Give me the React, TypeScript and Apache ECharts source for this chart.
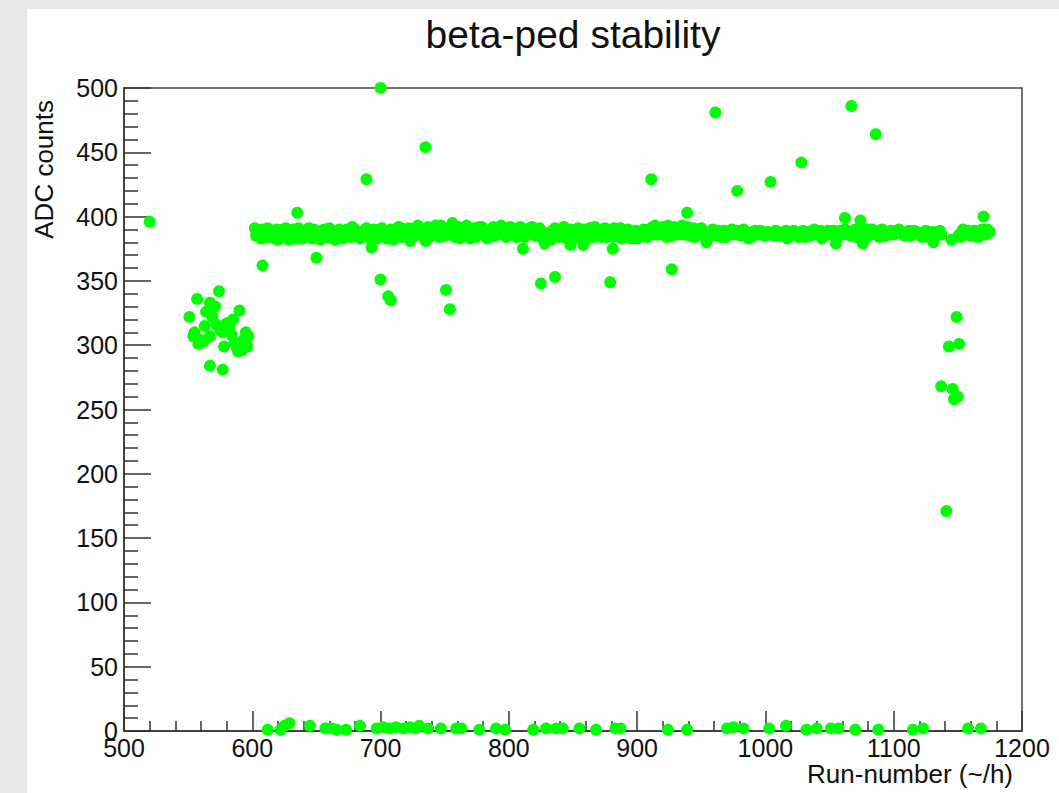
import React, { useEffect, useRef } from "react";
import * as echarts from "echarts";

const chartTitle = "beta-ped stability";
const xTitle = "Run-number (~/h)";
const yTitle = "ADC counts";

const xTicks = { min: 500, max: 1200, interval: 100 };
const yTicks = { min: 0, max: 500, interval: 50 };

// early run
const earlyPoints: [number, number][] = [[520, 396]];

// low cluster 550-600
const clusterPoints: [number, number][] = [
  [551, 322], [554, 307], [555, 310], [557, 336], [558, 301], [560, 304], [563, 315],
  [564, 326], [567, 333], [567, 307], [567, 284], [571, 330], [572, 316], [574, 342],
  [577, 281], [577, 310], [578, 299], [580, 317], [584, 308], [585, 320], [588, 298],
  [589, 295], [590, 327], [593, 304], [595, 310], [597, 307], [562, 303], [569, 322],
  [575, 312], [582, 314], [586, 302], [592, 296], [596, 299],
];

// main band ~ 385
const bandPoints: [number, number][] = [
  [602, 391], [605, 386], [607, 383], [610, 388], [613, 384], [616, 389], [618, 383], [621, 386],
  [624, 390], [627, 384], [630, 388], [633, 385], [636, 391], [639, 383], [642, 387], [645, 385],
  [648, 390], [651, 384], [654, 388], [657, 386], [660, 391], [663, 383], [666, 387], [669, 384],
  [672, 389], [675, 385], [678, 392], [681, 386], [684, 383], [687, 388], [690, 385], [693, 389],
  [696, 384], [699, 390],
  [702, 387], [705, 383], [708, 390], [711, 386], [714, 392], [717, 384], [720, 388], [723, 381],
  [726, 389], [729, 393], [732, 386], [735, 390], [738, 384], [741, 391], [744, 387], [747, 393],
  [750, 385], [753, 390], [756, 395], [759, 388], [762, 383], [765, 391], [768, 386], [771, 389],
  [774, 384], [777, 392], [780, 387], [783, 383], [786, 390], [789, 385], [792, 391], [795, 388],
  [798, 384],
  [801, 392], [804, 387], [807, 390], [810, 385], [813, 389], [816, 391], [819, 386], [822, 388],
  [825, 384], [828, 379], [831, 383], [834, 389], [837, 386], [840, 390], [843, 392], [846, 387],
  [849, 381], [852, 388], [855, 385], [858, 390], [861, 383], [864, 388], [867, 392], [870, 386],
  [873, 389], [876, 384], [879, 388], [882, 391], [885, 386], [888, 383], [891, 389], [894, 385],
  [897, 387],
  [900, 383], [903, 388], [906, 385], [909, 390], [912, 392], [915, 386], [918, 391], [921, 387],
  [924, 393], [927, 385], [930, 389], [933, 391], [936, 386], [939, 392], [942, 388], [945, 384],
  [948, 390], [951, 386], [954, 380], [957, 388], [960, 385], [963, 389], [966, 387], [969, 384],
  [972, 388], [975, 386], [978, 389], [981, 385], [984, 387], [987, 383], [990, 388], [993, 386],
  [996, 389], [999, 385],
  [1002, 388], [1005, 386], [1008, 389], [1011, 385], [1014, 387], [1017, 383], [1020, 388],
  [1023, 386], [1026, 384], [1029, 389], [1032, 387], [1035, 385], [1038, 390], [1041, 386],
  [1044, 383], [1047, 388], [1050, 386], [1053, 389], [1056, 384], [1059, 387], [1062, 390],
  [1065, 386], [1068, 388], [1071, 384], [1074, 389], [1077, 387], [1080, 385], [1083, 390],
  [1086, 387], [1089, 384], [1092, 388], [1095, 386], [1098, 389],
  [1101, 387], [1104, 390], [1107, 386], [1110, 388], [1113, 385], [1116, 389], [1119, 387],
  [1122, 384], [1125, 389], [1128, 386], [1131, 380], [1134, 388], [1137, 386], [1145, 382],
  [1151, 386], [1154, 390], [1157, 387], [1160, 385], [1163, 389], [1166, 384], [1169, 390],
  [1172, 386], [1175, 388],
];

// more band points between the ones above
const bandPoints2: [number, number][] = [
  [603, 385], [604, 389], [608, 390], [611, 384], [612, 391], [615, 385], [619, 390], [620, 382],
  [623, 384], [626, 391], [629, 382], [632, 390], [635, 383], [638, 389], [641, 384], [644, 391],
  [647, 383], [650, 388], [653, 382], [656, 390], [659, 384], [662, 389], [665, 382], [668, 390],
  [671, 383], [674, 390], [677, 384], [680, 390], [683, 388], [686, 384], [689, 391], [692, 383],
  [695, 390], [698, 383],
  [701, 391], [704, 389], [707, 385], [710, 382], [713, 387], [716, 391], [719, 385], [722, 391],
  [725, 384], [728, 388], [731, 391], [734, 384], [737, 392], [740, 386], [743, 393], [746, 384],
  [749, 391], [752, 387], [755, 392], [758, 384], [761, 392], [764, 386], [767, 393], [770, 383],
  [773, 391], [776, 386], [779, 392], [782, 389], [785, 384], [788, 392], [791, 386], [794, 393],
  [797, 390],
  [800, 386], [803, 391], [806, 384], [809, 392], [812, 384], [815, 387], [818, 392], [821, 385],
  [824, 391], [827, 386], [830, 387], [833, 382], [836, 391], [839, 384], [842, 388], [845, 383],
  [848, 390], [851, 385], [854, 391], [857, 384], [860, 388], [863, 391], [866, 384], [869, 390],
  [872, 384], [875, 391], [878, 386], [881, 384], [884, 389], [887, 391], [890, 384], [893, 390],
  [896, 383], [899, 389],
  [902, 384], [905, 390], [908, 384], [911, 388], [914, 393], [917, 386], [920, 392], [923, 384],
  [926, 391], [929, 392], [932, 386], [935, 393], [938, 389], [941, 385], [944, 391], [947, 387],
  [950, 391], [953, 384], [956, 386], [959, 390], [962, 386], [965, 384], [968, 389], [971, 386],
  [974, 390], [977, 387], [980, 388], [983, 390], [986, 386], [989, 384], [992, 389], [995, 387],
  [998, 388],
  [1001, 386], [1004, 387], [1007, 385], [1010, 388], [1013, 386], [1016, 389], [1019, 385],
  [1022, 389], [1025, 387], [1028, 386], [1031, 384], [1034, 388], [1037, 386], [1040, 388],
  [1043, 389], [1046, 385], [1049, 389], [1052, 387], [1055, 386], [1058, 389], [1061, 386],
  [1064, 388], [1067, 385], [1070, 390], [1073, 386], [1076, 388], [1079, 390], [1082, 386],
  [1085, 389], [1088, 386], [1091, 390], [1094, 385], [1097, 388], [1100, 386],
  [1103, 389], [1106, 388], [1109, 385], [1112, 389], [1115, 386], [1118, 388], [1121, 386],
  [1124, 387], [1127, 384], [1130, 388], [1133, 385], [1136, 389], [1152, 384], [1155, 387],
  [1158, 389], [1161, 386], [1164, 388], [1167, 386], [1170, 387], [1173, 390],
];

// outliers away from the band
const outlierPoints: [number, number][] = [
  [608, 362], [635, 403], [650, 368], [689, 429], [693, 376], [700, 500], [700, 351],
  [706, 338], [708, 335], [735, 454], [735, 381], [751, 343], [754, 328], [811, 375],
  [825, 348], [836, 353], [848, 378], [858, 378], [879, 349], [881, 375], [911, 429],
  [927, 359], [939, 403], [961, 481], [978, 420], [1004, 427], [1028, 442], [1055, 379],
  [1062, 399], [1067, 486], [1074, 397], [1076, 379], [1086, 464], [1131, 381], [1170, 400],
];

// dip near run 1140
const dipPoints: [number, number][] = [
  [1137, 268], [1141, 171], [1143, 299], [1146, 266], [1147, 258], [1149, 322], [1150, 260],
  [1151, 301],
];

// points at zero
const zeroPoints: [number, number][] = [
  [612, 1], [622, 1], [625, 4], [629, 6], [645, 4], [657, 2], [662, 2], [666, 1], [673, 1],
  [684, 4], [697, 2], [702, 3], [707, 2], [712, 3], [718, 2], [723, 3], [727, 2], [730, 4],
  [737, 2], [747, 2], [759, 2], [763, 2], [777, 1], [790, 2], [797, 1], [819, 1], [829, 2],
  [837, 2], [842, 2], [855, 2], [868, 1], [883, 2], [887, 2], [924, 1], [939, 1], [970, 2],
  [975, 3], [983, 2], [1003, 2], [1016, 4], [1032, 1], [1040, 2], [1051, 2], [1057, 2],
  [1070, 1], [1088, 1], [1115, 1], [1123, 2], [1158, 2], [1168, 2],
];

const allPoints = [
  ...earlyPoints, ...clusterPoints, ...bandPoints, ...bandPoints2, ...outlierPoints,
  ...dipPoints, ...zeroPoints,
];

const FONT = "'Liberation Sans', Arial, Helvetica, sans-serif";

export default function App() {
  const ref = useRef<HTMLDivElement>(null);
  useEffect(() => {
    if (!ref.current) return;
    const chart = echarts.init(ref.current, undefined, { renderer: "svg" });
    chart.setOption({
      animation: false,
      backgroundColor: "#e9e9e9",
      textStyle: { fontFamily: FONT },
      graphic: [
        {
          type: "rect",
          z: -10,
          shape: { x: 27, y: 9, width: 1032, height: 784 },
          style: { fill: "#ffffff" },
          silent: true,
        },
        {
          type: "text",
          x: 573,
          y: 34,
          style: {
            text: chartTitle,
            fontSize: 39,
            fontFamily: FONT,
            fill: "#111",
            align: "center",
            verticalAlign: "middle",
          },
        },
        {
          type: "text",
          x: 1013,
          y: 774,
          style: {
            text: xTitle,
            fontSize: 26,
            fontFamily: FONT,
            fill: "#111",
            align: "right",
            verticalAlign: "middle",
          },
        },
        {
          type: "text",
          x: 44,
          y: 100,
          rotation: Math.PI / 2,
          style: {
            text: yTitle,
            fontSize: 26,
            fontFamily: FONT,
            fill: "#111",
            align: "right",
            verticalAlign: "middle",
          },
        },
      ],
      grid: {
        left: 124,
        right: 37,
        top: 88,
        bottom: 62,
        show: true,
        backgroundColor: "#ffffff",
        borderColor: "#444",
        borderWidth: 1.5,
      },
      xAxis: {
        type: "value",
        min: xTicks.min,
        max: xTicks.max,
        interval: xTicks.interval,
        axisLine: { show: true, lineStyle: { color: "#333", width: 1.5 } },
        axisTick: { show: true, inside: true, length: 20, lineStyle: { color: "#333", width: 1.5 } },
        minorTick: { show: true, splitNumber: 5, length: 10, lineStyle: { color: "#333", width: 1.5 } },
        splitLine: { show: false },
        axisLabel: {
          fontSize: 25,
          color: "#111",
          margin: 4,
          fontFamily: FONT,
          formatter: (v: number) => String(v),
        },
      },
      yAxis: {
        type: "value",
        min: yTicks.min,
        max: yTicks.max,
        interval: yTicks.interval,
        axisLine: { show: true, lineStyle: { color: "#333", width: 1.5 } },
        axisTick: { show: true, inside: true, length: 27, lineStyle: { color: "#333", width: 1.5 } },
        minorTick: { show: true, splitNumber: 5, length: 14, lineStyle: { color: "#333", width: 1.5 } },
        splitLine: { show: false },
        axisLabel: {
          fontSize: 25,
          color: "#111",
          margin: 6,
          fontFamily: FONT,
          formatter: (v: number) => String(v),
        },
      },
      series: [
        {
          type: "scatter",
          data: allPoints,
          symbol: "circle",
          symbolSize: 12,
          itemStyle: { color: "#00ff00", opacity: 1 },
          clip: false,
        },
      ],
    });
    return () => chart.dispose();
  }, []);
  return (
    <div style={{ position: "fixed", left: 0, top: 0, width: 1059, height: 793 }}>
      <div ref={ref} style={{ width: 1059, height: 793 }} />
    </div>
  );
}
